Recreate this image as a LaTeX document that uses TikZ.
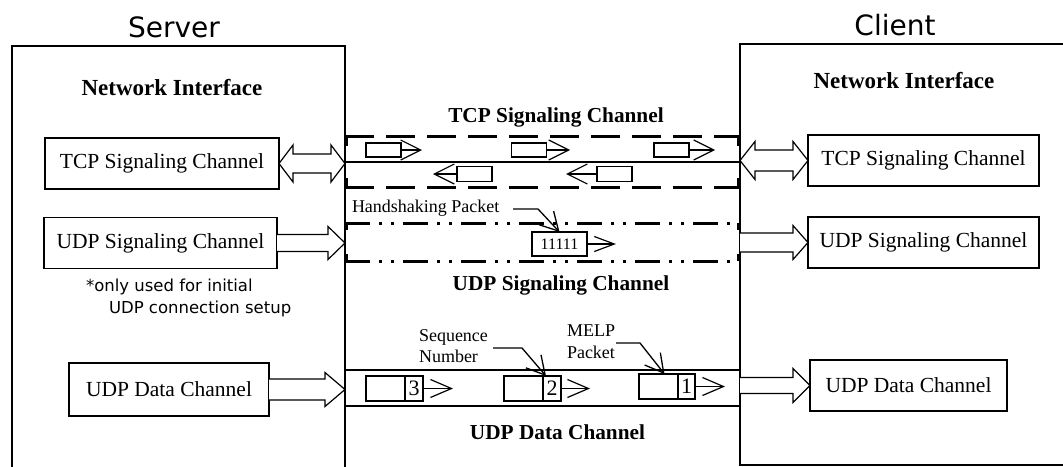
\documentclass[tikz,border=0pt]{standalone}
\usepackage{fontspec}
\setmainfont{Liberation Serif}
\newfontfamily\titlesans{DejaVu Sans}
\usetikzlibrary{arrows.meta,calc}

% hollow block arrow pointing right: #1 start (gives y), #2 tip (gives x),
% #3 half shaft height, #4 half head height, #5 head length
\newcommand\blockRight[5]{%
  \draw[blk] let \p1=(#1), \p2=(#2) in
    (\x1,\y1+#3pt) -- (\x2-#5pt,\y1+#3pt) -- (\x2-#5pt,\y1+#4pt) -- (\x2,\y1)
    -- (\x2-#5pt,\y1-#4pt) -- (\x2-#5pt,\y1-#3pt) -- (\x1,\y1-#3pt);}
% hollow double-headed block arrow between #1 (left tip) and #2 (right tip)
\newcommand\blockBoth[5]{%
  \draw[blk] let \p1=(#1), \p2=(#2) in
    (\x1,\y1) -- (\x1+#5pt,\y1+#4pt) -- (\x1+#5pt,\y1+#3pt) -- (\x2-#5pt,\y1+#3pt)
    -- (\x2-#5pt,\y1+#4pt) -- (\x2,\y1) -- (\x2-#5pt,\y1-#4pt) -- (\x2-#5pt,\y1-#3pt)
    -- (\x1+#5pt,\y1-#3pt) -- (\x1+#5pt,\y1-#4pt) -- cycle;}

\tikzset{
  every node/.style={inner sep=0pt, outer sep=0pt},
  outerbox/.style={draw, line width=1.1pt},
  chbox/.style={draw, line width=1.3pt, font=\fontsize{21.5}{24}\selectfont},
  heading/.style={font=\fontsize{23}{26}\selectfont\bfseries, anchor=base},
  chlabel/.style={font=\fontsize{21.3}{24}\selectfont\bfseries, anchor=base},
  endtitle/.style={font=\titlesans\fontsize{28}{32}\selectfont, anchor=base},
  notetext/.style={font=\titlesans\fontsize{16.5}{20}\selectfont, anchor=base west},
  smalltext/.style={font=\fontsize{18}{21}\selectfont, anchor=base west},
  blk/.style={draw, line width=1.2pt, fill=white, line join=miter},
  tcpline/.style={line width=3pt, dash pattern=on 29pt off 12pt},
  tcpedge/.style={line width=3pt, dash pattern=on 10pt off 32pt},
  udpline/.style={line width=3pt, dash pattern=on 25pt off 9pt on 3pt off 9pt on 3pt off 9pt},
  udpedge/.style={line width=3pt, dash pattern=on 7pt off 24pt},
  solidch/.style={line width=2pt},
  pkt/.style={draw, line width=1.2pt},
  digit/.style={pkt, minimum width=18pt, minimum height=25pt, anchor=west,
    font=\fontsize{22}{24}\selectfont},
  tcpflow/.style={line width=1.2pt, -{Straight Barb[length=20pt, width=20pt]}},
  dataflow/.style={line width=1.2pt, -{Straight Barb[length=21pt, width=18pt]}},
  hsflow/.style={line width=1.2pt, -{Straight Barb[length=20pt, width=15pt]}},
  callout/.style={line width=1.3pt, line join=miter, -{Straight Barb[length=18pt, width=20pt]}},
}

\begin{document}
\begin{tikzpicture}[x=1pt, y=-1pt]
\useasboundingbox (0,0) rectangle (1063,466);
\clip (0,0) rectangle (1063,466);

% end-point frames (server frame runs on below the page edge)
\node[outerbox, minimum width=333pt, minimum height=430pt] (srv) at (178.5,261) {};
\node[outerbox, minimum width=340pt, minimum height=421pt] (clt) at (910,254.5) {};
\node[endtitle] (srvtitle) at (174,37) {Server};
\node[endtitle] (clttitle) at (895,35) {Client};
\node[heading] (srvni) at (172,95) {Network Interface};
\node[heading] (cltni) at (904,88) {Network Interface};

% server channel boxes
\node[chbox, minimum width=234pt, minimum height=51pt] (stcp) at (162,163.5) {TCP Signaling Channel};
\node[chbox, minimum width=233pt, minimum height=51pt] (sudp) at (160.5,243) {UDP Signaling Channel};
\node[chbox, minimum width=200pt, minimum height=53pt] (sdat) at (169,389.5) {UDP Data Channel};
\node[notetext] (note1) at (86,291) {*only used for initial};
\node[notetext] (note2) at (109,313) {UDP connection setup};

% client channel boxes
\node[chbox, minimum width=231pt, minimum height=51pt] (ctcp) at (923.5,160.5) {TCP Signaling Channel};
\node[chbox, minimum width=231pt, minimum height=51pt] (cudp) at (923.5,242.5) {UDP Signaling Channel};
\node[chbox, minimum width=197pt, minimum height=51pt] (cdat) at (908.5,385.5) {UDP Data Channel};

% TCP signaling channel
\node[chlabel] (tcplabel) at (556,122) {TCP Signaling Channel};
\draw[tcpline] (345,136) -- (740,136);
\draw[tcpline] (345,187) -- (740,187);
\draw[tcpedge] (346.5,136) -- (346.5,187);
\draw[tcpedge] (738.5,136) -- (738.5,187);
\draw[solidch] (345,161.5) -- (740,161.5);

\node[pkt, minimum width=35pt, minimum height=14pt] (ta) at (383.5,150) {};
\node[pkt, minimum width=35pt, minimum height=14pt] (tb) at (529,150) {};
\node[pkt, minimum width=35pt, minimum height=14pt] (tc) at (671.5,150) {};
\coordinate (tat) at (422,150);
\coordinate (tbt) at (570,150);
\coordinate (tct) at (715,150);
\draw[tcpflow] (ta.east) -- (tat);
\draw[tcpflow] (tb.east) -- (tbt);
\draw[tcpflow] (tc.east) -- (tct);

\node[pkt, minimum width=35pt, minimum height=15pt] (ra) at (474.5,174) {};
\node[pkt, minimum width=35pt, minimum height=15pt] (rb) at (614.5,174) {};
\coordinate (rat) at (433,174);
\coordinate (rbt) at (566,174);
\draw[tcpflow] (ra.west) -- (rat);
\draw[tcpflow] (rb.west) -- (rbt);

\blockBoth{stcp.east}{srv.east |- stcp.east}{9.5}{18.5}{14}
\blockBoth{clt.west |- ctcp.west}{ctcp.west}{10.5}{19}{15}

% UDP signaling channel
\node[chlabel] (udplabel) at (561,290) {UDP Signaling Channel};
\draw[udpline] (345,223) -- (740,223);
\draw[udpline] (345,261) -- (740,261);
\draw[udpedge] (346.5,223) -- (346.5,261);
\draw[udpedge] (738.5,223) -- (738.5,261);

\node[smalltext] (hslabel) at (352,212.5) {Handshaking Packet};
\node[pkt, minimum width=55pt, minimum height=24pt, font=\fontsize{16}{18}\selectfont] (hp) at (559.5,244) {11111};
\coordinate (hpt) at (616,244);
\draw[hsflow] (hp.east) -- (hpt);
\coordinate (hsc) at (513,209);
\draw[callout] (hsc) -- ++(25,0) -- (hp.north);

\blockRight{sudp.east}{srv.east |- sudp.east}{8.5}{16.5}{17}
\blockRight{clt.west |- cudp.west}{cudp.west}{9.5}{17}{15}

% UDP data channel
\node[chlabel] (datlabel) at (557.5,439) {UDP Data Channel};
\draw[solidch] (345,370) -- (740,370);
\draw[solidch] (345,406) -- (740,406);

\node[pkt, minimum width=39pt, minimum height=25pt] (d3b) at (385.5,388.5) {};
\node[digit] (d3c) at (d3b.east) {3};
\node[pkt, minimum width=39pt, minimum height=25pt] (d2b) at (523.5,388.5) {};
\node[digit] (d2c) at (d2b.east) {2};
\node[pkt, minimum width=39pt, minimum height=25pt] (d1b) at (658.5,386.5) {};
\node[digit, minimum width=17pt] (d1c) at (d1b.east) {1};
\coordinate (d3t) at (453,388.5);
\coordinate (d2t) at (590,388.5);
\coordinate (d1t) at (725,386.5);
\draw[dataflow] (d3c.east) -- (d3t);
\draw[dataflow] (d2c.east) -- (d2t);
\draw[dataflow] (d1c.east) -- (d1t);

\node[smalltext] (seq1) at (419,341.5) {Sequence};
\node[smalltext] (seq2) at (419,362.5) {Number};
\node[smalltext] (melp1) at (567,336.5) {MELP};
\node[smalltext] (melp2) at (567,358) {Packet};
\coordinate (sqc) at (493,348);
\coordinate (mpc) at (616,343);
\draw[callout] (sqc) -- ++(29,0) -- ($(d2c.north west)+(3,0)$);
\draw[callout] (mpc) -- ++(24,0) -- ($(d1b.north)+(6,0)$);

\blockRight{sdat.east}{srv.east |- sdat.east}{10.5}{17}{20}
\blockRight{clt.west |- cdat.west}{cdat.west}{8}{17}{17}
\end{tikzpicture}
\end{document}
